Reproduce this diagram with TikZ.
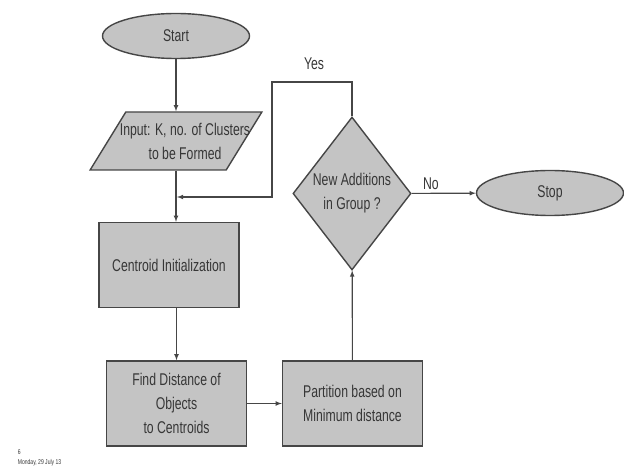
\documentclass[tikz,border=0pt]{standalone}
\usepackage{fontspec}
\setmainfont[FakeStretch=0.72]{Liberation Sans}
\usetikzlibrary{arrows}
\usetikzlibrary{shapes.geometric}
\definecolor{boxgray}{RGB}{196,196,196}
\definecolor{edgegray}{RGB}{70,70,70}
\definecolor{txtgray}{RGB}{55,55,55}

\begin{document}
\begin{tikzpicture} [x=1pt,y=-1pt,-latex,line width=1.1pt,draw=edgegray,
  every node/.style={font=\fontsize{17}{24}\selectfont,text=txtgray,align=center},
  block/.style={rectangle,draw=edgegray,fill=boxgray,line width=1.4pt,minimum width=140pt,minimum height=85pt,inner sep=0pt},
  term/.style={ellipse,draw=edgegray,fill=boxgray,line width=1.4pt,minimum width=147pt,minimum height=45pt,inner sep=0pt},
  io/.style={trapezium,trapezium left angle=52,trapezium right angle=128,trapezium stretches=true,draw=edgegray,fill=boxgray,line width=1.4pt,minimum width=172pt,minimum height=58pt,inner xsep=-34pt,inner ysep=0pt},
  test/.style={diamond,draw=edgegray,fill=boxgray,line width=1.4pt,minimum width=110pt,minimum height=153pt,inner sep=0pt}]

  \useasboundingbox (0,0) rectangle (624,470);

  \node[term] (start) at (176,36) {Start};
  \node[io] (input) at (176,141) {\hspace*{18pt}Input: K, no. of Clusters\\\hspace*{18pt}to be Formed};
  \node[block] (init) at (169,265) {Centroid Initialization};
  \node[block] (dist) at (176.5,403.5) {Find Distance of\\Objects\\to Centroids};
  \node[block] (part) at (352.5,403.5) {Partition based on\\Minimum distance};
  \node[test] (check) at (352,193.5) {New Additions\\in Group ?};
  \node[term] (stop) at (550,193) {Stop};
  \coordinate (join) at (177,197);
  \coordinate (turn) at (272,82);

  \path
    (start) edge (input)
    (input.south) edge (input.south |- init.north)
    (dist.north |- init.south) edge (dist.north)
    (dist) edge (part)
    (part) edge (check)
    (check) edge node[above,pos=0.3] {No} (stop);
  \draw (check.north) |- (turn) |- (join);
  \node (yes) at (314,64) {Yes};

  \node[font=\fontsize{7}{9}\selectfont,anchor=west] (page) at (14,452) {6};
  \node[font=\fontsize{7}{9}\selectfont,anchor=west] (date) at (14,463) {Monday, 29 July 13};

\end{tikzpicture}
\end{document}
